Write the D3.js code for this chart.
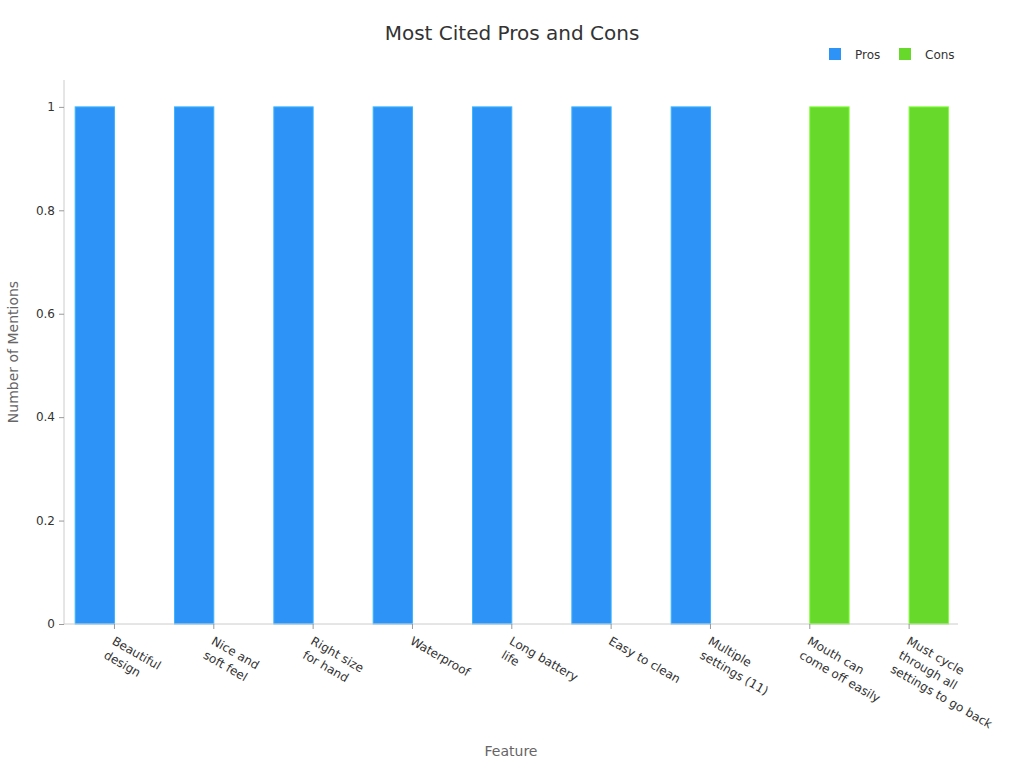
<!DOCTYPE html>
<html lang="en">
<head>
<meta charset="UTF-8">
<title>Most Cited Pros and Cons</title>
<script src="https://d3js.org/d3.v7.min.js"></script>
<style>
  body { margin: 0; background: #fff; }
  text { font-family: "DejaVu Sans", sans-serif; }
</style>
</head>
<body>
<svg id="chart" width="1024" height="768"></svg>
<script>
// data
const categories = [
  "Beautiful\ndesign", "Nice and\nsoft feel", "Right size\nfor hand", "Waterproof",
  "Long battery\nlife", "Easy to clean", "Multiple\nsettings (11)",
  "Mouth can\ncome off easily", "Must cycle\nthrough all\nsettings to go back"
];
const series = ["Pros", "Cons"];
const prosValues = [1, 1, 1, 1, 1, 1, 1, 0, 0];
const consValues = [0, 0, 0, 0, 0, 0, 0, 1, 1];
const yTicks = [0, 0.2, 0.4, 0.6, 0.8, 1];
const colors = { Pros: "#2e93f7", Cons: "#66d92a" };

const svg = d3.select("#chart");
const plotLeft = 64, plotRight = 958, plotTop = 80, plotBottom = 624;

const x0 = d3.scaleBand().domain(d3.range(categories.length)).range([plotLeft + 0.8, plotRight + 0.8]).padding(0);
const x1 = d3.scaleBand().domain(series).range([0, x0.bandwidth()]).paddingInner(0).paddingOuter(0.264);
const y = d3.scaleLinear().domain([0, 1.052]).range([plotBottom, plotTop]);

const rows = categories.map((c, i) => ({ i, Pros: prosValues[i], Cons: consValues[i] }));

// bars
const g = svg.append("g");
g.selectAll("g.cat")
  .data(rows)
  .join("g")
  .attr("transform", d => `translate(${x0(d.i)},0)`)
  .selectAll("rect")
  .data(d => series.map(s => ({ s, v: d[s] })))
  .join("rect")
  .attr("x", d => x1(d.s))
  .attr("width", x1.bandwidth())
  .attr("y", d => y(d.v))
  .attr("height", d => y(0) - y(d.v))
  .attr("fill", d => colors[d.s])
  .attr("stroke", d => d3.color(colors[d.s]).brighter(0.6))
  .attr("stroke-width", d => d.v > 0 ? 1 : 0);

// y axis
const yAxis = svg.append("g")
  .attr("transform", `translate(${plotLeft},0)`)
  .call(d3.axisLeft(y).tickValues(yTicks).tickSize(5).tickPadding(4).tickFormat(d3.format("")));
yAxis.select(".domain").attr("stroke", "#ccc").attr("d", `M0,${plotTop}V${plotBottom}`);
yAxis.selectAll(".tick line").attr("stroke", "#999");
yAxis.selectAll(".tick text").attr("fill", "#333").style("font-size", "12px").style("font-family", "DejaVu Sans");

// x axis
const xAxis = svg.append("g")
  .attr("transform", `translate(0,${plotBottom})`)
  .call(d3.axisBottom(x0).tickSize(5).tickFormat(""));
xAxis.select(".domain").attr("stroke", "#ccc").attr("d", `M${plotLeft},0H${plotRight}`);
xAxis.selectAll(".tick line").attr("stroke", "#999");

const lbl = svg.append("g").selectAll("text")
  .data(categories)
  .join("text")
  .attr("transform", (d, i) => `translate(${x0(i) + x0.bandwidth() / 2 + 1},${plotBottom + 12}) rotate(30)`)
  .attr("fill", "#333")
  .style("font-size", "12px");
lbl.selectAll("tspan")
  .data(d => d.split("\n"))
  .join("tspan")
  .attr("x", 0)
  .attr("dy", (d, i) => i === 0 ? "0.71em" : "1.35em")
  .text(d => d);

// titles
svg.append("text").attr("x", 512).attr("y", 40).attr("text-anchor", "middle")
  .attr("fill", "#333").style("font-size", "20px").text("Most Cited Pros and Cons");
svg.append("text").attr("x", 511).attr("y", 756).attr("text-anchor", "middle")
  .attr("fill", "#666").style("font-size", "14px").text("Feature");
svg.append("text").attr("transform", "translate(18,352) rotate(-90)").attr("text-anchor", "middle")
  .attr("fill", "#666").style("font-size", "14px").text("Number of Mentions");

// legend
const legendX = [829, 899];
const lg = svg.append("g").selectAll("g")
  .data(series)
  .join("g")
  .attr("transform", (d, i) => `translate(${legendX[i]},48)`);
lg.append("rect").attr("width", 12).attr("height", 12).attr("fill", d => colors[d]);
lg.append("text").attr("x", 26).attr("y", 11).attr("fill", "#333").style("font-size", "12px").text(d => d);
</script>
</body>
</html>
